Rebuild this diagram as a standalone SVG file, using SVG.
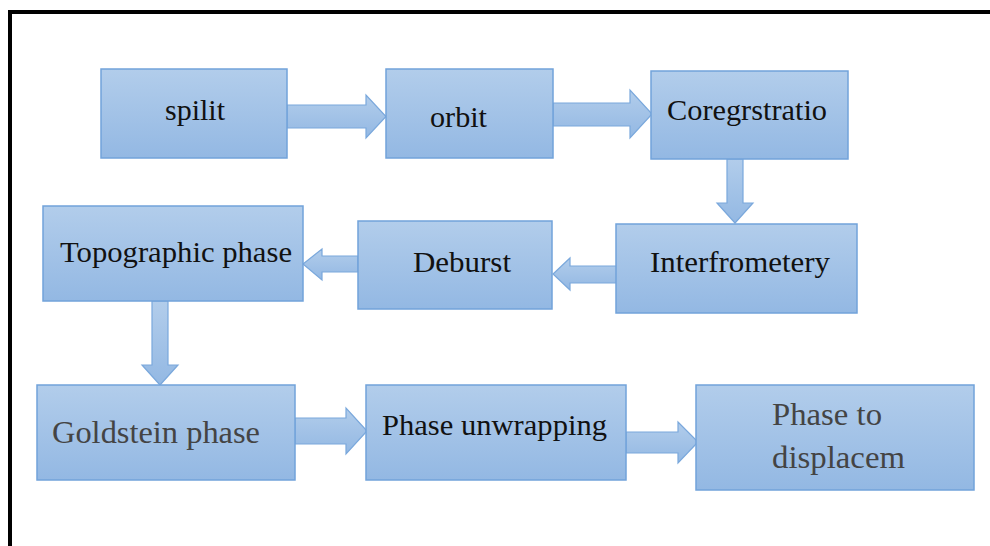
<svg xmlns="http://www.w3.org/2000/svg" width="990" height="546" viewBox="0 0 990 546">
<defs>
<linearGradient id="g" x1="0" y1="0" x2="0" y2="1">
<stop offset="0" stop-color="#b2cdeb"/>
<stop offset="1" stop-color="#93b8e3"/>
</linearGradient>
<style>
.box{fill:url(#g);stroke:#72a3da;stroke-width:1.5}
.arr{fill:url(#g);stroke:#7aa8dc;stroke-width:1.2}
.t{font-family:"Liberation Serif","Times New Roman",serif;font-size:30px;fill:#111;text-anchor:start}
.g{fill:#444;font-size:32px}
</style>
</defs>
<rect width="990" height="546" fill="#fff"/>
<path d="M10 546 V12 H990" fill="none" stroke="#000" stroke-width="4"/>
<g id="connectors">
<polygon class="arr" points="287,105 366,105 366,95 386,116.5 366,138 366,128 287,128"/>
<polygon class="arr" points="553,103 630,103 630,90 652,114 630,138 630,126 553,126"/>
<polygon class="arr" points="727,159 743,159 743,203 753,203 735,223 717,203 727,203"/>
<polygon class="arr" points="617,266 570,266 570,258 553,274 570,290 570,283 617,283"/>
<polygon class="arr" points="358,256 322,256 322,249 303,264 322,280 322,272 358,272"/>
<polygon class="arr" points="152,301 168,301 168,365 178,365 160,385 142,365 152,365"/>
<polygon class="arr" points="295,418 346,418 346,408 367,431 346,454 346,444 295,444"/>
<polygon class="arr" points="626,432 678,432 678,422 698,442 678,463 678,453 626,453"/>
</g>
<g id="n1"><rect class="box" x="101" y="69" width="186" height="89"/><text class="t" x="165" y="120" textLength="60" lengthAdjust="spacingAndGlyphs">spilit</text></g>
<g id="n2"><rect class="box" x="386" y="69" width="167" height="89"/><text class="t" x="430" y="127" textLength="57" lengthAdjust="spacingAndGlyphs">orbit</text></g>
<g id="n3"><rect class="box" x="651" y="71" width="197" height="88"/><text class="t" x="667" y="120" textLength="160" lengthAdjust="spacingAndGlyphs">Coregrstratio</text></g>
<g id="n4"><rect class="box" x="616" y="224" width="241" height="89"/><text class="t" x="650" y="272" textLength="180" lengthAdjust="spacingAndGlyphs">Interfrometery</text></g>
<g id="n5"><rect class="box" x="358" y="221" width="194" height="88"/><text class="t" x="413" y="272" textLength="98" lengthAdjust="spacingAndGlyphs">Deburst</text></g>
<g id="n6"><rect class="box" x="43" y="206" width="260" height="95"/><text class="t" x="60" y="262" textLength="232" lengthAdjust="spacingAndGlyphs">Topographic phase</text></g>
<g id="n7"><rect class="box" x="37" y="385" width="258" height="95"/><text class="t g" x="52" y="443" textLength="208" lengthAdjust="spacingAndGlyphs">Goldstein phase</text></g>
<g id="n8"><rect class="box" x="366" y="385" width="260" height="95"/><text class="t" x="382" y="435" textLength="225" lengthAdjust="spacingAndGlyphs">Phase unwrapping</text></g>
<g id="n9"><rect class="box" x="696" y="385" width="278" height="105"/><text class="t g" x="772" y="425" textLength="110" lengthAdjust="spacingAndGlyphs">Phase to</text><text class="t g" x="772" y="468" textLength="133" lengthAdjust="spacingAndGlyphs">displacem</text></g>
</svg>
